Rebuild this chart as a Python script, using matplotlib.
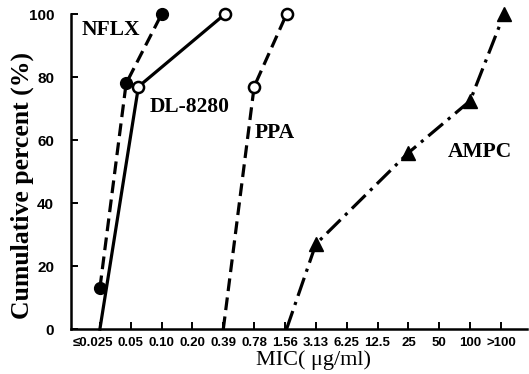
import numpy as np
import matplotlib
matplotlib.use('Agg')
import matplotlib.pyplot as plt
from matplotlib import transforms

# MIC categories along x (equal spacing, index positions)
mic_labels = ['≤0.025', '0.05', '0.10', '0.20', '0.39', '0.78', '1.56', '3.13',
              '6.25', '12.5', '25', '50', '100', '>100']
pct_ticks = [0, 20, 40, 60, 80, 100]

# series (x in category index, y in cumulative %)
nflx_x = [0, 0.85, 2.0]
nflx_y = [13, 78, 100]
dl_x = [0, 1.25, 4.05]
dl_y = [0, 77, 100]
ppa_x = [4.0, 5.0, 6.05]
ppa_y = [0, 77, 100]
ampc_x = [6.05, 7.0, 10.0, 12.0, 13.1]
ampc_y = [0, 27, 56, 72.5, 100]

fig = plt.figure(figsize=(5.29, 3.74), dpi=100)
ax = fig.add_axes([0.134, 0.12, 0.862, 0.842])

lw = 2.3
ax.plot(nflx_x, nflx_y, color='black', lw=lw, ls=(0, (4, 2)), marker='o', ms=8.5,
        mfc='black', mec='black', clip_on=False, zorder=3)
ax.plot(dl_x, dl_y, color='black', lw=lw, ls='-', marker='o', ms=8,
        mfc='white', mec='black', mew=1.8, clip_on=False, markevery=[1, 2], zorder=4)
ax.plot(ppa_x, ppa_y, color='black', lw=lw, ls=(0, (4, 2)), marker='o', ms=8,
        mfc='white', mec='black', mew=1.8, clip_on=False, markevery=[1, 2], zorder=3)
ax.plot(ampc_x, ampc_y, color='black', lw=lw, ls=(0, (6, 2, 1, 2)), marker='^', ms=9.5,
        mfc='black', mec='black', clip_on=False, markevery=[1, 2, 3, 4], zorder=3)

txt = dict(fontsize=15.5, fontweight='bold', family='Liberation Serif', va='baseline')
ax.text(-0.58, 93.3, 'NFLX', **txt)
ax.text(1.62, 68.9, 'DL-8280', **txt)
ax.text(5.02, 60.6, 'PPA', **txt)
ax.text(11.28, 54.6, 'AMPC', **txt)

ax.set_xlim(-0.94, 13.84)
ax.set_ylim(0, 100)
ax.set_xticks(np.arange(len(mic_labels)))
ax.set_xticklabels(mic_labels)
ax.set_yticks(pct_ticks)

for s in ['top', 'right']:
    ax.spines[s].set_visible(False)
for s in ['left', 'bottom']:
    ax.spines[s].set_linewidth(1.8)

ax.tick_params(direction='in', length=5, width=1.4)
ax.tick_params(axis='y', pad=12)
ax.tick_params(axis='x', pad=6)
for lab in ax.get_xticklabels():
    lab.set_fontsize(9.5)
    lab.set_fontweight('bold')
    lab.set_family('Liberation Sans')
for lab in ax.get_yticklabels():
    lab.set_fontsize(11)
    lab.set_fontweight('bold')
    lab.set_family('Liberation Sans')

# first label sits a little left of its tick, as in the original
first = ax.get_xticklabels()[0]
first.set_transform(first.get_transform() +
                    transforms.ScaledTranslation(-5 / 72, 0, fig.dpi_scale_trans))

ax.set_xlabel('MIC( μg/ml)', fontsize=16, family='Liberation Serif')
ax.xaxis.set_label_coords(0.533, -0.068)
ax.set_ylabel('Cumulative percent (%)', fontsize=18.5, fontweight='bold',
              family='Liberation Serif')
ax.yaxis.set_label_coords(-0.08, 0.455)

fig.savefig('out.png', dpi=100)
